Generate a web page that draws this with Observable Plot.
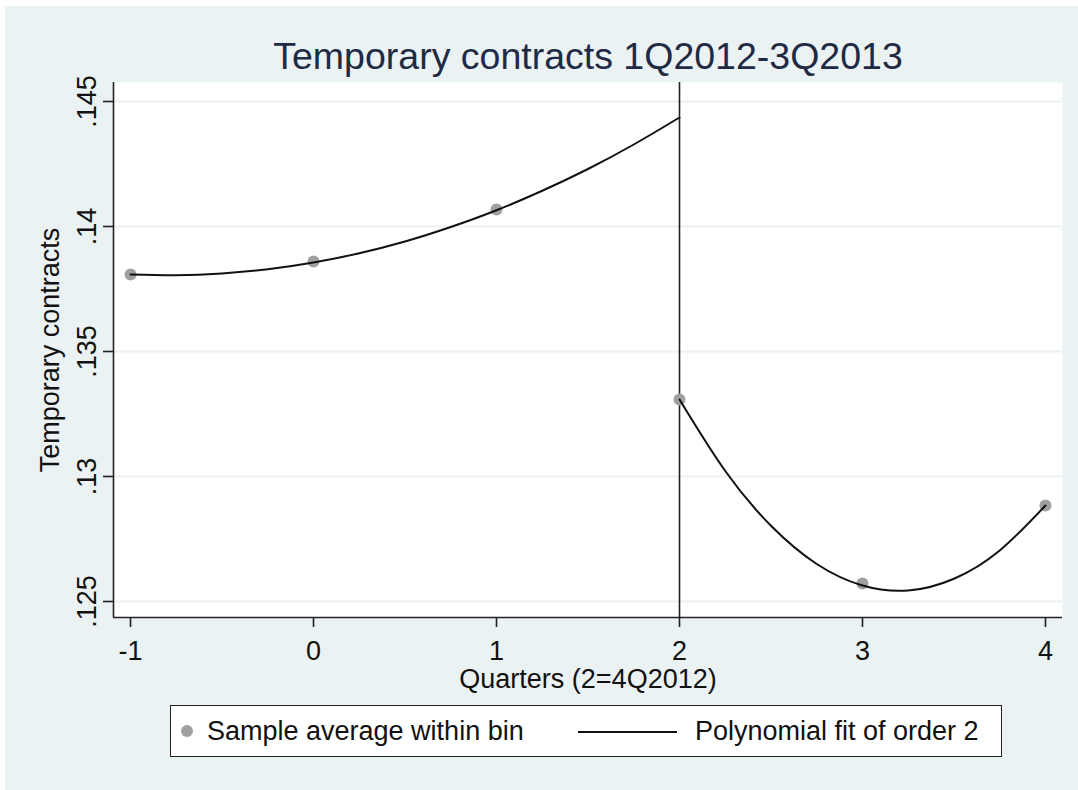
<!DOCTYPE html>
<html><head><meta charset="utf-8">
<script src="https://cdn.jsdelivr.net/npm/d3@7"></script>
<script src="https://cdn.jsdelivr.net/npm/@observablehq/plot@0.6"></script>
<style>
body{margin:0;background:#fff;font-family:"Liberation Sans",Arial,sans-serif;}
#page{position:relative;width:1078px;height:790px;overflow:hidden;}
#bg{position:absolute;left:5px;top:6px;width:1073px;height:784px;background:#eaf2f3;}
#chart{position:absolute;left:0;top:0;}
#legend{position:absolute;left:170px;top:705px;width:830px;height:50px;background:#fff;border:1.5px solid #222;font-size:27px;color:#111;}
#legend .dot{position:absolute;left:10px;top:19px;width:12px;height:12px;border-radius:50%;background:#a0a0a0;}
#legend .t1{position:absolute;left:36px;top:10px;line-height:30px;white-space:nowrap;}
#legend .ln{position:absolute;left:407px;top:25px;width:99px;height:2px;background:#111;}
#legend .t2{position:absolute;left:524px;top:10px;line-height:30px;white-space:nowrap;}
</style></head><body>
<div id="page"><div id="bg"></div><div id="chart"></div>
<div id="legend"><span class="dot"></span><span class="t1"></span><span class="ln"></span><span class="t2"></span></div>
</div>
<script>
const quarters = [-1, 0, 1, 2, 3, 4];
const binMeans = [0.13808, 0.1386, 0.14068, 0.13308, 0.12572, 0.12884];
const fitLeftX = [-1, -0.75, -0.5, -0.25, 0, 0.25, 0.5, 0.75, 1, 1.25, 1.5, 1.75, 2];
const fitLeftY = [0.13808, 0.13805, 0.13812, 0.13829, 0.13856, 0.13893, 0.1394, 0.13998, 0.14065, 0.14143, 0.1423, 0.14328, 0.14436];
const fitRightX = [2, 2.25, 2.5, 2.75, 3, 3.25, 3.5, 3.75, 4];
const fitRightY = [0.13308, 0.13022, 0.12803, 0.1265, 0.12564, 0.12544, 0.12591, 0.12704, 0.12884];
const xTicks = [-1, 0, 1, 2, 3, 4];
const xTickLabels = ["-1", "0", "1", "2", "3", "4"];
const yTicks = [0.125, 0.13, 0.135, 0.14, 0.145];
const yTickLabels = [".125", ".13", ".135", ".14", ".145"];
const cutoff = [2];
const xDomain = [-1.093, 4.093];
const yDomain = [0.12436, 0.14576];
const titleText = "Temporary contracts 1Q2012-3Q2013";
const xLabel = "Quarters (2=4Q2012)";
const yLabel = "Temporary contracts";
const legendLabels = ["Sample average within bin", "Polynomial fit of order 2"];

const points = quarters.map((q, i) => ({x: q, y: binMeans[i]}));
const leftFit = fitLeftX.map((x, i) => ({x, y: fitLeftY[i]}));
const rightFit = fitRightX.map((x, i) => ({x, y: fitRightY[i]}));

const chart = Plot.plot({
  width: 1078,
  height: 700,
  marginLeft: 113,
  marginRight: 16,
  marginTop: 82,
  marginBottom: 83,
  style: {background: "transparent", fontFamily: "Liberation Sans, Arial, sans-serif", overflow: "visible"},
  x: {domain: xDomain, axis: null},
  y: {domain: yDomain, axis: null},
  marks: [
    Plot.frame({fill: "white", stroke: "none"}),
    Plot.ruleY(yTicks, {stroke: "#eaf2f3", strokeWidth: 2}),
    Plot.ruleX(cutoff, {stroke: "#222", strokeWidth: 1.6}),
    Plot.dot(points, {x: "x", y: "y", r: 6, fill: "#a0a0a0", stroke: "none"}),
    Plot.line(leftFit, {x: "x", y: "y", curve: "natural", stroke: "#111", strokeWidth: 2}),
    Plot.line(rightFit, {x: "x", y: "y", curve: "natural", stroke: "#111", strokeWidth: 2}),
    Plot.ruleX([xDomain[0]], {stroke: "#222", strokeWidth: 1.6}),
    Plot.ruleY([yDomain[0]], {stroke: "#222", strokeWidth: 1.6}),
    Plot.axisX({ticks: xTicks, tickSize: 10, tickPadding: 13, tickFormat: (d) => xTickLabels[xTicks.indexOf(d)], fontSize: 27, label: null, stroke: "#222", strokeWidth: 1.6, fill: "#111"}),
    Plot.axisY({ticks: yTicks, tickSize: 10, tickFormat: () => "", label: null, stroke: "#222", strokeWidth: 1.6}),
    Plot.text(yTicks, {y: d => d, text: (d, i) => yTickLabels[i], frameAnchor: "left", dx: -26, rotate: -90, textAnchor: "middle", lineAnchor: "middle", fontSize: 27, fill: "#111"}),
    Plot.text([yLabel], {frameAnchor: "left", dx: -63, rotate: -90, textAnchor: "middle", lineAnchor: "middle", fontSize: 27, fill: "#111"}),
    Plot.text([xLabel], {frameAnchor: "bottom", dy: 51, lineAnchor: "top", fontSize: 27, fill: "#111"}),
    Plot.text([titleText], {frameAnchor: "top", dy: -40, lineAnchor: "top", fontSize: 37.5, fill: "#1f2a44"})
  ]
});
document.getElementById("chart").appendChild(chart);
document.querySelector("#legend .t1").textContent = legendLabels[0];
document.querySelector("#legend .t2").textContent = legendLabels[1];
</script>
</body></html>
